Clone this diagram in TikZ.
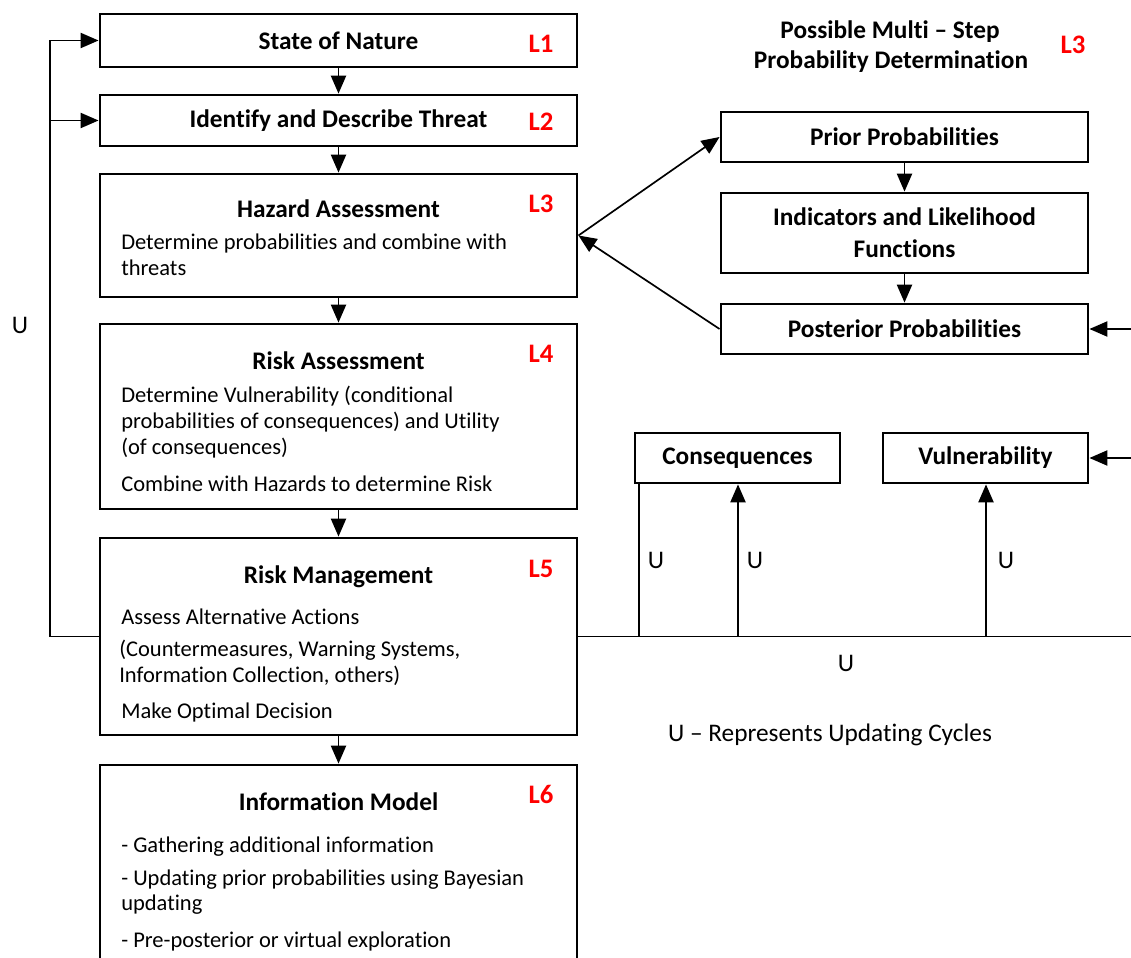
\documentclass[tikz,border=0pt]{standalone}
\usepackage{fontspec}
\setmainfont{Carlito}[Ligatures=NoCommon]
\usetikzlibrary{arrows.meta,positioning}

\tikzset{
  box/.style={draw,line width=2pt,minimum width=11.925cm,inner sep=0pt},
  rbox/.style={draw,line width=2pt,minimum width=9.175cm,inner sep=0pt,font=\fontsize{18}{21}\selectfont\bfseries,align=center},
  sbox/.style={draw,line width=2pt,minimum width=5.125cm,minimum height=1.25cm,inner sep=0pt,font=\fontsize{18}{21}\selectfont\bfseries},
  ttl/.style={anchor=base,inner sep=0pt,font=\fontsize{18}{21}\selectfont\bfseries},
  body/.style={anchor=base west,inner sep=0pt,font=\fontsize{16}{19}\selectfont},
  lvl/.style={anchor=base,inner sep=0pt,text=red,font=\fontsize{19}{22}\selectfont\bfseries},
  ulab/.style={anchor=base,inner sep=0pt,font=\fontsize{18}{21}\selectfont},
  line/.style={line width=1.2pt},
  arr/.style={line width=1.2pt,-{Triangle[length=0.45cm,width=0.38cm]}}
}

\begin{document}
\begin{tikzpicture}[x=0.025cm,y=-0.025cm]
\clip (0,0) rectangle (1131,958);
% main column
\node[box,minimum height=1.325cm,font=\fontsize{18}{21}\selectfont\bfseries] (sn) at (338.5,40.5) {State of Nature};
\node[lvl] (l1) at (541,53) {L1};
\node[box,minimum height=1.275cm,font=\fontsize{18}{21}\selectfont\bfseries] (idt) at (338.5,120.5) {Identify and Describe Threat};
\node[lvl] (l2) at (541,131) {L2};

\node[box,minimum height=3.075cm] (haz) at (338.5,235.5) {};
\node[ttl] (hazt) at (338.5,218) {Hazard Assessment};
\node[lvl] (l3) at (541,213) {L3};
\node[body] (haz1) at (121,250) {Determine probabilities and combine with};
\node[body] (haz2) at (121,276) {threats};

\node[box,minimum height=4.625cm] (risk) at (338.5,416.5) {};
\node[ttl] (riskt) at (338.5,369) {Risk Assessment};
\node[lvl] (l4) at (541,362) {L4};
\node[body] (risk1) at (121,402) {Determine Vulnerability (conditional};
\node[body] (risk2) at (121,428) {probabilities of consequences) and Utility};
\node[body] (risk3) at (121,454) {(of consequences)};
\node[body] (risk4) at (121,491) {Combine with Hazards to determine Risk};

\node[box,minimum height=4.925cm] (rm) at (338.5,636.5) {};
\node[ttl] (rmt) at (338.5,583) {Risk Management};
\node[lvl] (l5) at (541,577) {L5};
\node[body] (rm1) at (121,624) {Assess Alternative Actions};
\node[body] (rm2) at (119,656) {(Countermeasures, Warning Systems,};
\node[body] (rm3) at (119,682) {Information Collection, others)};
\node[body] (rm4) at (121,718) {Make Optimal Decision};

\node[box,minimum height=5.25cm] (im) at (338.5,870) {};
\node[ttl] (imt) at (338.5,810) {Information Model};
\node[lvl] (l6) at (541,803) {L6};
\node[body] (im1) at (121,852) {- Gathering additional information};
\node[body] (im2) at (121,885) {- Updating prior probabilities using Bayesian};
\node[body] (im3) at (121,910) {updating};
\node[body] (im4) at (121,947) {- Pre-posterior or virtual exploration};

\draw[arr] (sn) -- (idt);
\draw[arr] (idt) -- (haz);
\draw[arr] (haz) -- (risk);
\draw[arr] (risk) -- (rm);
\draw[arr] (rm) -- (im);

% updating loop on the left
\coordinate (lb) at (50,636.5);
\coordinate (lt) at (50,40.5);
\coordinate (lm) at (50,120.5);
\draw[line] (rm.west) -- (lb) -- (lt);
\draw[arr] (lt) -- (sn.west);
\draw[arr] (lm) -- (idt.west);
\node[ulab] (u0) at (20,333) {U};

% probability determination
\node[ttl] (pt1) at (890,39) {Possible Multi -- Step};
\node[ttl] (pt2) at (891,69) {Probability Determination};
\node[lvl] (l3b) at (1073,54) {L3};
\node[rbox,minimum height=1.25cm] (prior) at (904.5,137) {Prior Probabilities};
\node[rbox,minimum height=2cm] (ind) at (904.5,233) {Indicators and Likelihood\\[2pt]Functions};
\node[rbox,minimum height=1.25cm] (post) at (904.5,329) {Posterior Probabilities};
\draw[arr] (prior) -- (ind);
\draw[arr] (ind) -- (post);
\draw[arr] (haz.east) -- (prior.west);
\draw[arr] (post.west) -- (haz.east);
\coordinate (re1) at (1131,329);
\draw[arr] (re1) -- (post.east);

% consequences and vulnerability
\node[sbox] (cons) at (737.5,458) {Consequences};
\node[sbox] (vul) at (985.5,458) {Vulnerability};
\coordinate (re2) at (1131,458);
\draw[arr] (re2) -- (vul.east);
\coordinate (rb) at (1131,636.5);
\draw[line] (rm.east) -- (rb);
\coordinate (b1) at (639,636.5);
\coordinate (b2) at (738,636.5);
\coordinate (b3) at (986,636.5);
\draw[line] (b1) -- (b1 |- cons.south);
\draw[arr] (b2) -- (b2 |- cons.south);
\draw[arr] (b3) -- (b3 |- vul.south);
\node[ulab] (u1) at (656,568) {U};
\node[ulab] (u2) at (755,568) {U};
\node[ulab] (u3) at (1006,568) {U};
\node[ulab] (u4) at (846,671) {U};
\node[ulab] (ukey) at (830,741) {U -- Represents Updating Cycles};
\end{tikzpicture}
\end{document}
